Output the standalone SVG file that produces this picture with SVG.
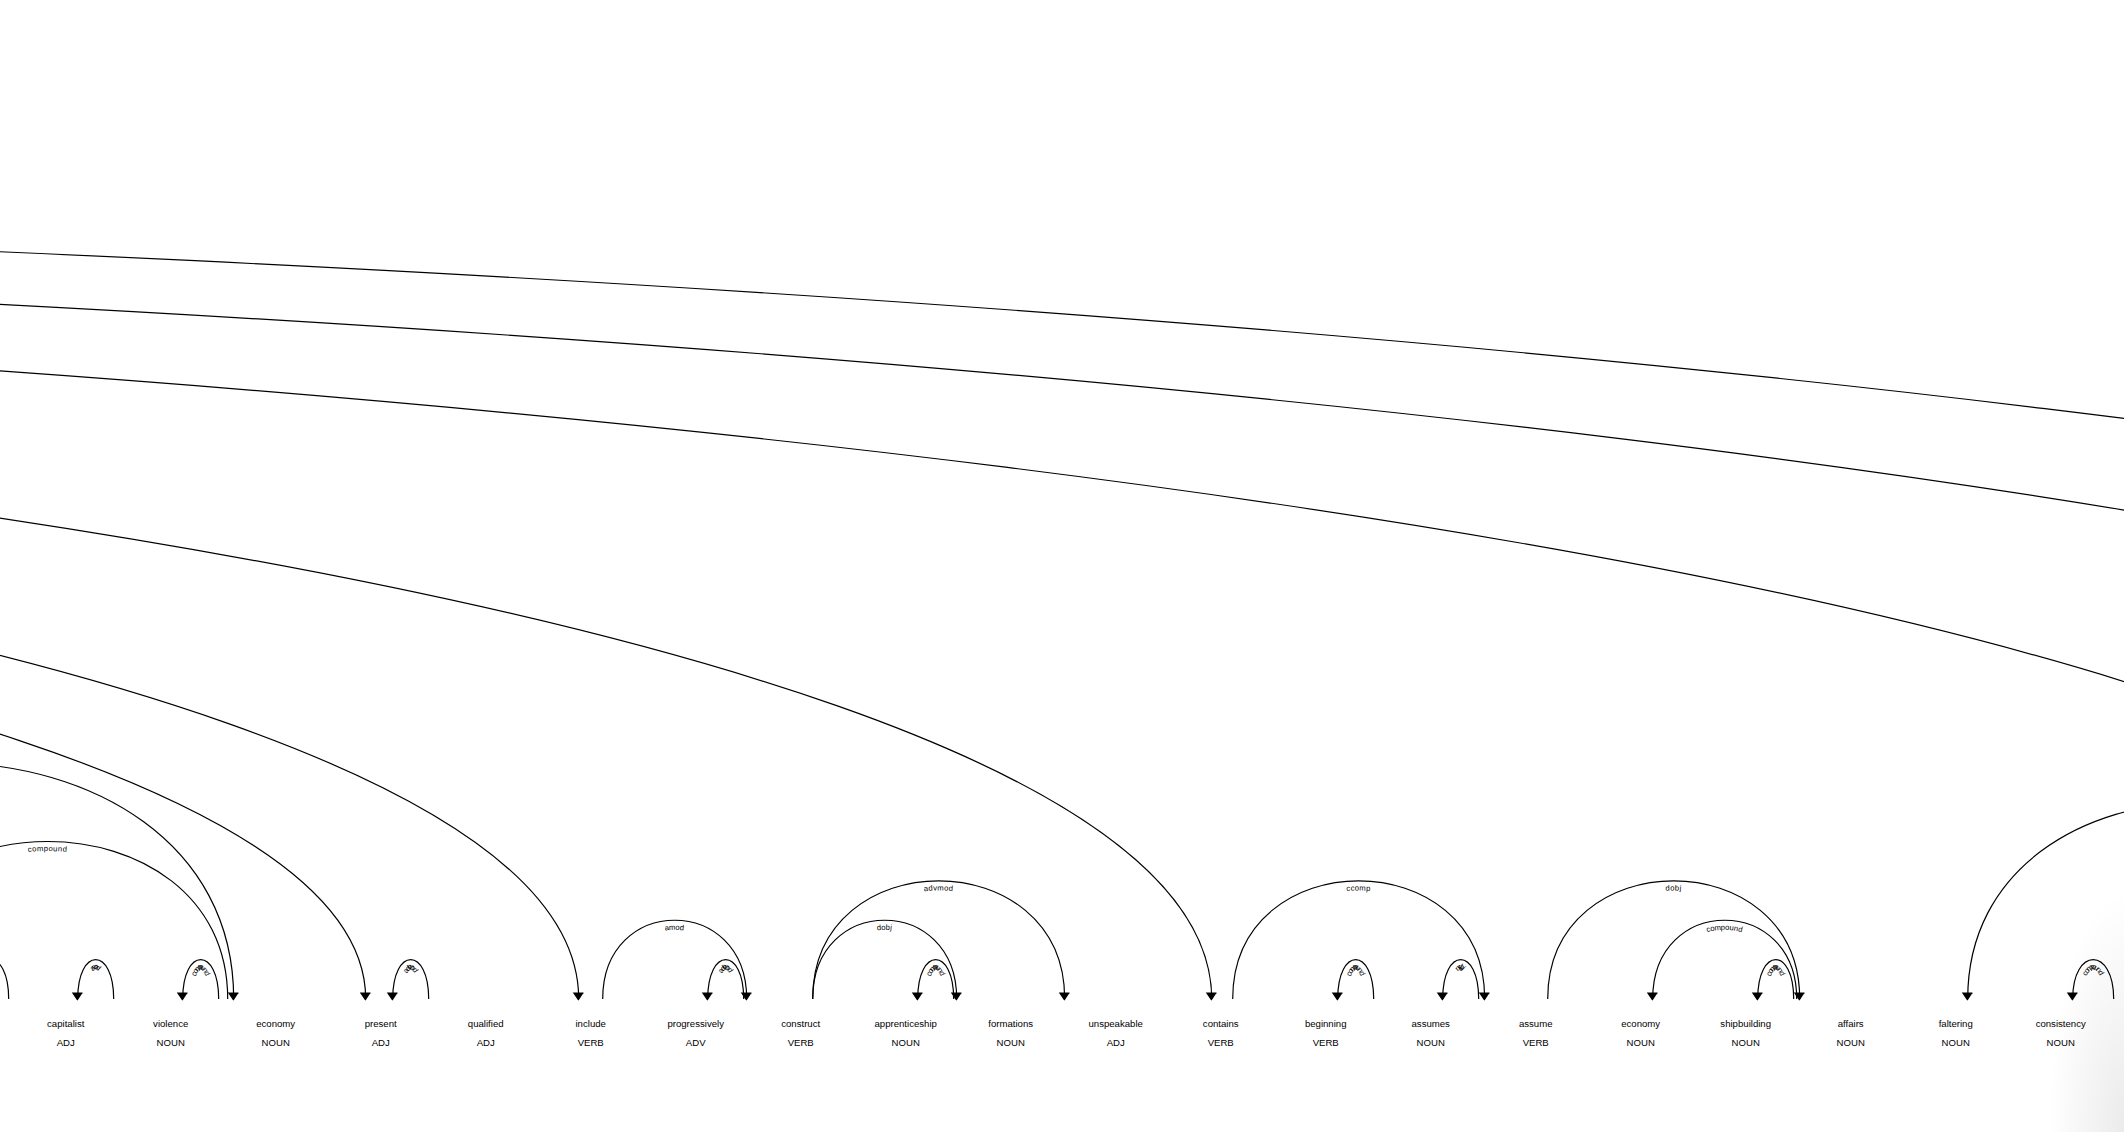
<svg xmlns="http://www.w3.org/2000/svg" width="2124" height="1132" viewBox="0 0 2124 1132">
<style>
.w{font-family:"Liberation Sans",Arial,sans-serif;font-size:9.6px;fill:#000;text-anchor:middle}
.arc{fill:none;stroke:#000;stroke-width:1.2}
.ah{fill:#000;stroke:#000;stroke-width:1.2}
.lbl{font-family:"Liberation Sans",Arial,sans-serif;font-size:7.68px;letter-spacing:0.6px;fill:#000}
</style>
<defs>
<radialGradient id="shade" cx="2124" cy="1132" r="1" gradientUnits="userSpaceOnUse" gradientTransform="translate(2124 1132) scale(75 240) translate(-2124 -1132)">
<stop offset="0" stop-color="#000" stop-opacity="0.08"/>
<stop offset="1" stop-color="#000" stop-opacity="0"/>
</radialGradient>
</defs>
<rect x="0" y="0" width="2124" height="1132" fill="#fff"/>
<g id="arcs">
<path id="a1" class="arc" d="M-27.3,999 C-27.3,946.5 8.7,946.5 8.7,999"/>
<path id="a2" class="arc" d="M77.7,999 C77.7,946.5 113.7,946.5 113.7,999"/>
<text class="lbl" dy="9.6"><textPath href="#a2" startOffset="50%" text-anchor="middle">amod</textPath></text>
<path class="ah" d="M77.7,1000.2 L72.9,993 82.5,993"/>
<path id="a3" class="arc" d="M182.7,999 C182.7,946.5 218.7,946.5 218.7,999"/>
<text class="lbl" dy="9.6"><textPath href="#a3" startOffset="50%" text-anchor="middle">compound</textPath></text>
<path class="ah" d="M182.7,1000.2 L177.9,993 187.5,993"/>
<path id="a4" class="arc" d="M-132.3,999 C-132.3,789 227.7,789 227.7,999"/>
<text class="lbl" dy="9.6"><textPath href="#a4" startOffset="50%" text-anchor="middle">compound</textPath></text>
<path id="a5" class="arc" d="M-342.3,999 C-342.3,684 233.7,684 233.7,999"/>
<path class="ah" d="M233.7,1000.2 L228.9,993 238.5,993"/>
<path id="a6" class="arc" d="M392.7,999 C392.7,946.5 428.7,946.5 428.7,999"/>
<text class="lbl" dy="9.6"><textPath href="#a6" startOffset="50%" text-anchor="middle">advmod</textPath></text>
<path class="ah" d="M392.7,1000.2 L387.9,993 397.5,993"/>
<path id="a7" class="arc" d="M-7692.3,999 C-7692.3,211.5 365.7,211.5 365.7,999"/>
<path class="ah" d="M365.7,1000.2 L360.9,993 370.5,993"/>
<path id="a8" class="arc" d="M-7587.3,999 C-7587.3,159 578.7,159 578.7,999"/>
<path class="ah" d="M578.7,1000.2 L573.9,993 583.5,993"/>
<path id="a9" class="arc" d="M602.7,999 C602.7,894 746.7,894 746.7,999"/>
<text class="lbl" dy="9.6"><textPath href="#a9" startOffset="50%" text-anchor="middle">amod</textPath></text>
<path class="ah" d="M746.7,1000.2 L741.9,993 751.5,993"/>
<path id="a10" class="arc" d="M707.7,999 C707.7,946.5 743.7,946.5 743.7,999"/>
<text class="lbl" dy="9.6"><textPath href="#a10" startOffset="50%" text-anchor="middle">advmod</textPath></text>
<path class="ah" d="M707.7,1000.2 L702.9,993 712.5,993"/>
<path id="a11" class="arc" d="M812.7,999 C812.7,894 956.7,894 956.7,999"/>
<text class="lbl" dy="9.6"><textPath href="#a11" startOffset="50%" text-anchor="middle">dobj</textPath></text>
<path class="ah" d="M956.7,1000.2 L951.9,993 961.5,993"/>
<path id="a12" class="arc" d="M812.7,999 C812.7,841.5 1064.7,841.5 1064.7,999"/>
<text class="lbl" dy="9.6"><textPath href="#a12" startOffset="50%" text-anchor="middle">advmod</textPath></text>
<path class="ah" d="M1064.7,1000.2 L1059.9,993 1069.5,993"/>
<path id="a13" class="arc" d="M917.7,999 C917.7,946.5 953.7,946.5 953.7,999"/>
<text class="lbl" dy="9.6"><textPath href="#a13" startOffset="50%" text-anchor="middle">compound</textPath></text>
<path class="ah" d="M917.7,1000.2 L912.9,993 922.5,993"/>
<path id="a14" class="arc" d="M-7482.3,999 C-7482.3,106.5 1211.7,106.5 1211.7,999"/>
<path class="ah" d="M1211.7,1000.2 L1206.9,993 1216.5,993"/>
<path id="a15" class="arc" d="M1232.7,999 C1232.7,841.5 1484.7,841.5 1484.7,999"/>
<text class="lbl" dy="9.6"><textPath href="#a15" startOffset="50%" text-anchor="middle">ccomp</textPath></text>
<path class="ah" d="M1484.7,1000.2 L1479.9,993 1489.5,993"/>
<path id="a16" class="arc" d="M1337.7,999 C1337.7,946.5 1373.7,946.5 1373.7,999"/>
<text class="lbl" dy="9.6"><textPath href="#a16" startOffset="50%" text-anchor="middle">compound</textPath></text>
<path class="ah" d="M1337.7,1000.2 L1332.9,993 1342.5,993"/>
<path id="a17" class="arc" d="M1442.7,999 C1442.7,946.5 1478.7,946.5 1478.7,999"/>
<text class="lbl" dy="9.6"><textPath href="#a17" startOffset="50%" text-anchor="middle">nsubj</textPath></text>
<path class="ah" d="M1442.7,1000.2 L1437.9,993 1447.5,993"/>
<path id="a18" class="arc" d="M1547.7,999 C1547.7,841.5 1799.7,841.5 1799.7,999"/>
<text class="lbl" dy="9.6"><textPath href="#a18" startOffset="50%" text-anchor="middle">dobj</textPath></text>
<path class="ah" d="M1799.7,1000.2 L1794.9,993 1804.5,993"/>
<path id="a19" class="arc" d="M1652.7,999 C1652.7,894 1796.7,894 1796.7,999"/>
<text class="lbl" dy="9.6"><textPath href="#a19" startOffset="50%" text-anchor="middle">compound</textPath></text>
<path class="ah" d="M1652.7,1000.2 L1647.9,993 1657.5,993"/>
<path id="a20" class="arc" d="M1757.7,999 C1757.7,946.5 1793.7,946.5 1793.7,999"/>
<text class="lbl" dy="9.6"><textPath href="#a20" startOffset="50%" text-anchor="middle">compound</textPath></text>
<path class="ah" d="M1757.7,1000.2 L1752.9,993 1762.5,993"/>
<path id="a21" class="arc" d="M1967.7,999 C1967.7,736.5 2435.7,736.5 2435.7,999"/>
<path class="ah" d="M1967.7,1000.2 L1962.9,993 1972.5,993"/>
<path id="a22" class="arc" d="M2072.7,999 C2072.7,946.5 2113.7,946.5 2113.7,999"/>
<text class="lbl" dy="9.6"><textPath href="#a22" startOffset="50%" text-anchor="middle">compound</textPath></text>
<path class="ah" d="M2072.7,1000.2 L2067.9,993 2077.5,993"/>
<path id="a23" class="arc" d="M-7482.3,999 C-7482.3,54 2579.7,54 2579.7,999"/>
<path id="a24" class="arc" d="M-7587.3,999 C-7587.3,1.5 3317.7,1.5 3317.7,999"/>
<path id="a25" class="arc" d="M-7692.3,999 C-7692.3,-51 3845.7,-51 3845.7,999"/>
</g>
<g id="w0"><text class="w" y="1026.7"><tspan x="65.7">capitalist</tspan><tspan x="65.7" dy="19.2">ADJ</tspan></text></g>
<g id="w1"><text class="w" y="1026.7"><tspan x="170.7">violence</tspan><tspan x="170.7" dy="19.2">NOUN</tspan></text></g>
<g id="w2"><text class="w" y="1026.7"><tspan x="275.7">economy</tspan><tspan x="275.7" dy="19.2">NOUN</tspan></text></g>
<g id="w3"><text class="w" y="1026.7"><tspan x="380.7">present</tspan><tspan x="380.7" dy="19.2">ADJ</tspan></text></g>
<g id="w4"><text class="w" y="1026.7"><tspan x="485.7">qualified</tspan><tspan x="485.7" dy="19.2">ADJ</tspan></text></g>
<g id="w5"><text class="w" y="1026.7"><tspan x="590.7">include</tspan><tspan x="590.7" dy="19.2">VERB</tspan></text></g>
<g id="w6"><text class="w" y="1026.7"><tspan x="695.7">progressively</tspan><tspan x="695.7" dy="19.2">ADV</tspan></text></g>
<g id="w7"><text class="w" y="1026.7"><tspan x="800.7">construct</tspan><tspan x="800.7" dy="19.2">VERB</tspan></text></g>
<g id="w8"><text class="w" y="1026.7"><tspan x="905.7">apprenticeship</tspan><tspan x="905.7" dy="19.2">NOUN</tspan></text></g>
<g id="w9"><text class="w" y="1026.7"><tspan x="1010.7">formations</tspan><tspan x="1010.7" dy="19.2">NOUN</tspan></text></g>
<g id="w10"><text class="w" y="1026.7"><tspan x="1115.7">unspeakable</tspan><tspan x="1115.7" dy="19.2">ADJ</tspan></text></g>
<g id="w11"><text class="w" y="1026.7"><tspan x="1220.7">contains</tspan><tspan x="1220.7" dy="19.2">VERB</tspan></text></g>
<g id="w12"><text class="w" y="1026.7"><tspan x="1325.7">beginning</tspan><tspan x="1325.7" dy="19.2">VERB</tspan></text></g>
<g id="w13"><text class="w" y="1026.7"><tspan x="1430.7">assumes</tspan><tspan x="1430.7" dy="19.2">NOUN</tspan></text></g>
<g id="w14"><text class="w" y="1026.7"><tspan x="1535.7">assume</tspan><tspan x="1535.7" dy="19.2">VERB</tspan></text></g>
<g id="w15"><text class="w" y="1026.7"><tspan x="1640.7">economy</tspan><tspan x="1640.7" dy="19.2">NOUN</tspan></text></g>
<g id="w16"><text class="w" y="1026.7"><tspan x="1745.7">shipbuilding</tspan><tspan x="1745.7" dy="19.2">NOUN</tspan></text></g>
<g id="w17"><text class="w" y="1026.7"><tspan x="1850.7">affairs</tspan><tspan x="1850.7" dy="19.2">NOUN</tspan></text></g>
<g id="w18"><text class="w" y="1026.7"><tspan x="1955.7">faltering</tspan><tspan x="1955.7" dy="19.2">NOUN</tspan></text></g>
<g id="w19"><text class="w" y="1026.7"><tspan x="2060.7">consistency</tspan><tspan x="2060.7" dy="19.2">NOUN</tspan></text></g>
<rect x="1900" y="860" width="224" height="272" fill="url(#shade)"/>
</svg>
